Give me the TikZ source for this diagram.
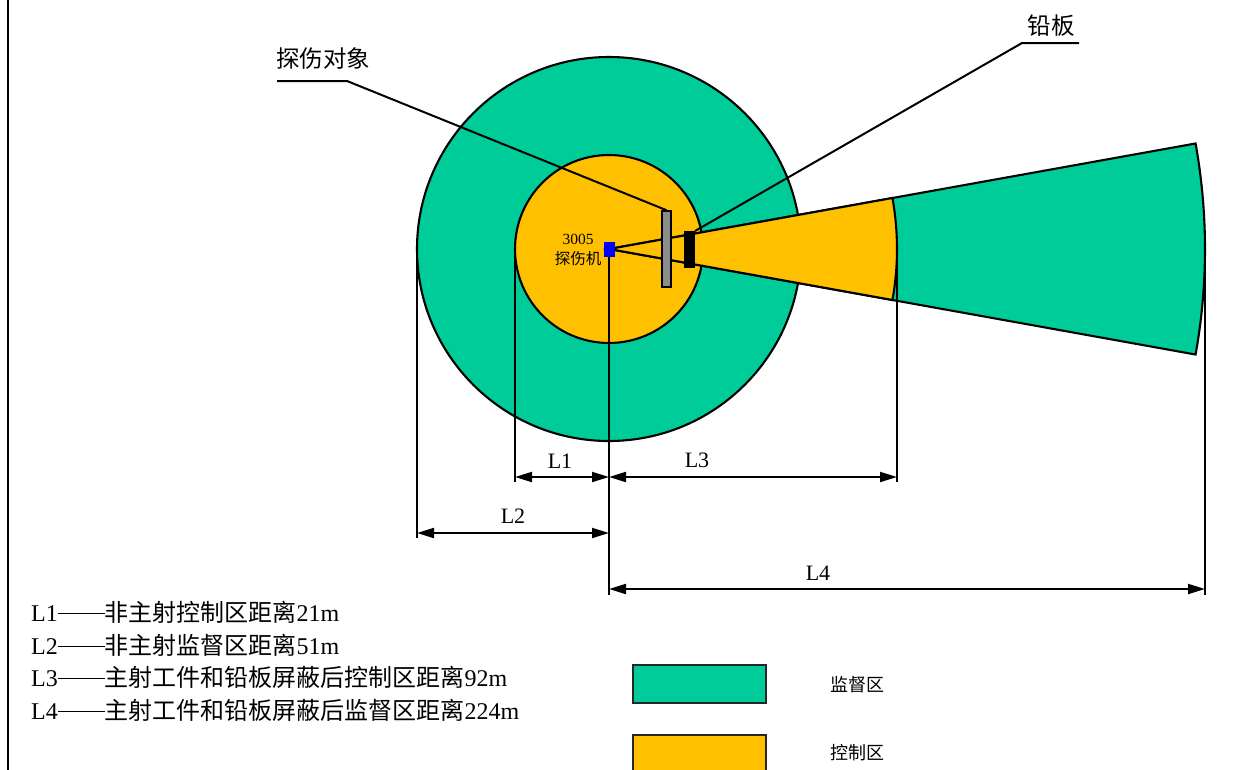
\documentclass[tikz,border=0pt]{standalone}
\usepackage{fontspec}
\setmainfont{Liberation Serif}
\newfontfamily\cjk{Noto Sans CJK SC}
\usetikzlibrary{arrows.meta}
\definecolor{zgreen}{RGB}{0,204,153}
\definecolor{zyellow}{RGB}{255,192,0}
\definecolor{plategray}{RGB}{140,140,140}
\definecolor{srcblue}{RGB}{0,0,255}
\tikzset{
  zone/.style={draw=black, line width=2.1pt},
  thin line/.style={draw=black, line width=2pt},
  dimarr/.style={draw=black, line width=2pt, {Triangle[length=17pt,width=10pt]}-{Triangle[length=17pt,width=10pt]}},
  dimlbl/.style={font=\fontsize{22}{24}\selectfont, inner sep=0pt},
  biglbl/.style={font=\fontsize{23.5}{26}\selectfont, inner sep=0pt},
  leglbl/.style={font=\fontsize{24}{26}\selectfont, inner sep=0pt, anchor=west},
  keylbl/.style={font=\fontsize{18}{20}\selectfont\cjk, inner sep=0pt},
  keybox/.style={draw=black!85, line width=2pt}
}
\newcommand{\ldash}{\rule[0.3em]{1.95em}{0.05em}}
\begin{document}
\begin{tikzpicture}[x=1pt,y=-1pt]
\useasboundingbox (0,0) rectangle (1239,769);
\fill[white] (0,0) rectangle (1239,769);
% left border
\draw[line width=2pt] (8,-2) -- (8,771);

\coordinate (c) at (609,249);
% zones
\filldraw[zone, fill=zgreen] (c) circle[radius=192];
\filldraw[zone, fill=zyellow] (c) circle[radius=94];
\begin{scope}[shift={(609,249)}]
  \filldraw[zone, fill=zgreen] (0,0) -- (-10.2:596) arc[start angle=-10.2, end angle=10.2, radius=596] -- cycle;
  \filldraw[zone, fill=zyellow] (0,0) -- (-10.2:288) arc[start angle=-10.2, end angle=10.2, radius=288] -- cycle;
\end{scope}

% extension lines
\coordinate (e1t) at (417,249); \coordinate (e1b) at (417,538);
\coordinate (e2t) at (515,249); \coordinate (e2b) at (515,482);
\coordinate (e3t) at (609,256); \coordinate (e3b) at (609,595);
\coordinate (e4t) at (897,249); \coordinate (e4b) at (897,482);
\coordinate (e5t) at (1205,249); \coordinate (e5b) at (1205,595);
\foreach \a/\b in {e1t/e1b,e2t/e2b,e3t/e3b,e4t/e4b,e5t/e5b}
  \draw[thin line] (\a) -- (\b);

% plates and source
\node[draw=black, line width=1.6pt, fill=plategray, minimum width=9pt, minimum height=76pt, inner sep=0pt] (obj) at (666.5,249) {};
\node[draw=black, line width=1pt, fill=black, minimum width=10pt, minimum height=36pt, inner sep=0pt] (lead) at (689.5,249.5) {};
\node[fill=srcblue, minimum width=11pt, minimum height=15pt, inner sep=0pt] (src) at (609,249) {};
\node[font=\fontsize{15.5}{20}\selectfont, align=center, inner sep=0pt] (srclbl) at (578,250) {3005\\{\cjk 探伤机}};

% leaders
\node[biglbl] (objlbl) at (323,59) {\cjk 探伤对象};
\coordinate (objl0) at (277,81);
\coordinate (objl1) at (347,81);
\draw[thin line] (objl0) -- (objl1) -- (obj.north);
\node[biglbl] (leadlbl) at (1051,26) {\cjk 铅板};
\coordinate (ld0) at (1079,43);
\coordinate (ld1) at (1022,43);
\draw[thin line] (ld0) -- (ld1) -- (lead.north east);

% dimensions
\coordinate (d1a) at (515,477); \coordinate (d1b) at (609,477);
\coordinate (d3a) at (609,477); \coordinate (d3b) at (897,477);
\coordinate (d2a) at (417,533); \coordinate (d2b) at (609,533);
\coordinate (d4a) at (609,589); \coordinate (d4b) at (1205,589);
\draw[dimarr] (d1a) -- (d1b);
\draw[dimarr] (d3a) -- (d3b);
\draw[dimarr] (d2a) -- (d2b);
\draw[dimarr] (d4a) -- (d4b);
\node[dimlbl] (l1) at (560,461) {L1};
\node[dimlbl] (l3) at (697,460) {L3};
\node[dimlbl] (l2) at (513,516) {L2};
\node[dimlbl] (l4) at (818,573) {L4};

% legend text
\node[leglbl] (t1) at (31,612) {L1\ldash{\cjk 非主射控制区距离}21m};
\node[leglbl] (t2) at (31,645) {L2\ldash{\cjk 非主射监督区距离}51m};
\node[leglbl] (t3) at (31,677) {L3\ldash{\cjk 主射工件和铅板屏蔽后控制区距离}92m};
\node[leglbl] (t4) at (31,710) {L4\ldash{\cjk 主射工件和铅板屏蔽后监督区距离}224m};

% key
\filldraw[keybox, fill=zgreen] (633,665) rectangle (766,703);
\filldraw[keybox, fill=zyellow] (633,735) rectangle (766,790);
\node[keylbl] (k1) at (857,685) {监督区};
\node[keylbl] (k2) at (857,753) {控制区};
\end{tikzpicture}
\end{document}
